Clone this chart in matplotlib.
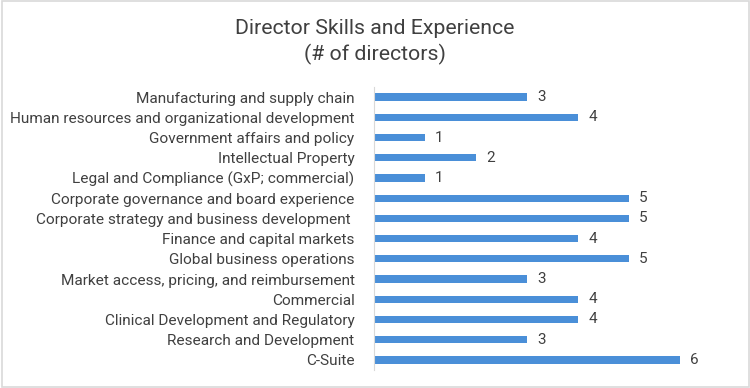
import matplotlib.pyplot as plt
import numpy as np

# categories listed bottom to top
categories = [
    "C-Suite",
    "Research and Development",
    "Clinical Development and Regulatory",
    "Commercial",
    "Market access, pricing, and reimbursement",
    "Global business operations",
    "Finance and capital markets",
    "Corporate strategy and business development ",
    "Corporate governance and board experience",
    "Legal and Compliance (GxP; commercial)",
    "Intellectual Property",
    "Government affairs and policy",
    "Human resources and organizational development",
    "Manufacturing and supply chain",
]
directors = [6, 3, 4, 4, 3, 5, 4, 5, 5, 1, 2, 1, 4, 3]

plt.rcParams['font.family'] = ['Roboto', 'DejaVu Sans']
text_color = '#404040'
bar_color = '#4a8fd8'

fig = plt.figure(figsize=(7.5, 3.88), dpi=100)
ax = fig.add_axes([374 / 750, 1 - 370 / 388, (731 - 374) / 750, (370 - 87) / 388])

y = np.arange(len(categories))
ax.barh(y, directors, height=0.36, color=bar_color)

for yi, v in zip(y, directors):
    ax.text(v + 0.2, yi, str(v), va='center', ha='left', fontsize=11, color=text_color)

ax.set_xlim(0, 7)
ax.set_ylim(-0.5, len(categories) - 0.5)
ax.set_yticks(y)
ax.set_yticklabels(categories, fontsize=11.1, color=text_color)
ax.tick_params(axis='y', length=0, pad=14)
ax.set_xticks([])
for side in ['top', 'right', 'bottom']:
    ax.spines[side].set_visible(False)
ax.spines['left'].set_color('#d9d9d9')

fig.text(0.5, 1 - 28 / 388, "Director Skills and Experience", ha='center', va='center',
         fontsize=15.3, color=text_color)
fig.text(0.5, 1 - 54 / 388, "(# of directors)", ha='center', va='center',
         fontsize=15.3, color=text_color)

# light gray border around the chart area
fig.patches.append(plt.Rectangle((0.002, 0.003), 0.996, 0.994, transform=fig.transFigure,
                                 fill=False, edgecolor='#d9d9d9', linewidth=1.2))

fig.savefig('out.png', dpi=100)
